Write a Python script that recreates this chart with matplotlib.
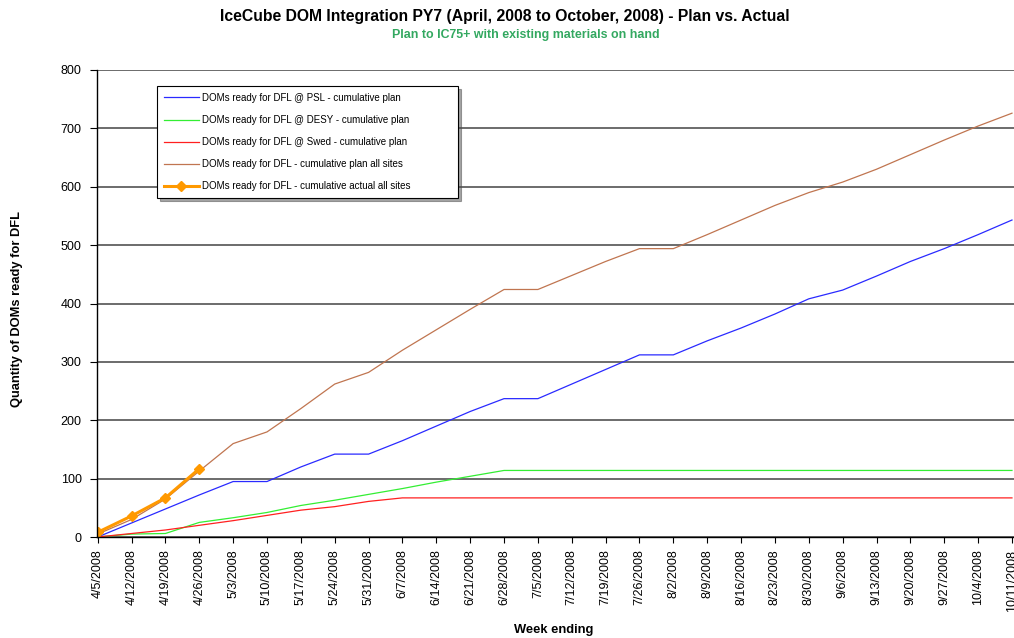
import matplotlib
matplotlib.use("Agg")
import matplotlib.pyplot as plt

plt.rcParams['font.family'] = ['Liberation Sans', 'DejaVu Sans']

weeks = ["4/5/2008", "4/12/2008", "4/19/2008", "4/26/2008", "5/3/2008", "5/10/2008",
         "5/17/2008", "5/24/2008", "5/31/2008", "6/7/2008", "6/14/2008", "6/21/2008",
         "6/28/2008", "7/5/2008", "7/12/2008", "7/19/2008", "7/26/2008", "8/2/2008",
         "8/9/2008", "8/16/2008", "8/23/2008", "8/30/2008", "9/6/2008", "9/13/2008",
         "9/20/2008", "9/27/2008", "10/4/2008", "10/11/2008"]

psl_plan = [0, 24, 48, 72, 95, 95, 120, 142, 142, 165, 190, 215, 237, 237, 262, 287,
            312, 312, 336, 358, 382, 408, 423, 447, 472, 494, 518, 543]
desy_plan = [0, 5, 6, 25, 33, 42, 54, 63, 73, 83, 94, 104, 114, 114, 114, 114, 114,
             114, 114, 114, 114, 114, 114, 114, 114, 114, 114, 114]
swed_plan = [0, 6, 12, 20, 28, 37, 46, 52, 61, 67, 67, 67, 67, 67, 67, 67, 67, 67,
             67, 67, 67, 67, 67, 67, 67, 67, 67, 67]
all_plan = [5, 30, 65, 113, 160, 180, 220, 262, 282, 320, 355, 390, 424, 424, 448, 472,
            494, 494, 518, 543, 568, 590, 608, 630, 655, 680, 704, 726]
actual = [8, 36, 67, 117]

labels = ["DOMs ready for DFL @ PSL - cumulative plan",
          "DOMs ready for DFL @ DESY - cumulative plan",
          "DOMs ready for DFL @ Swed - cumulative plan",
          "DOMs ready for DFL - cumulative plan all sites",
          "DOMs ready for DFL - cumulative actual all sites"]

W, H = 1014, 638
fig = plt.figure(figsize=(W / 100, H / 100), dpi=100)
ax = fig.add_axes([97 / W, (H - 537) / H, (1014 - 97) / W, (537 - 70) / H])

x = list(range(len(weeks)))
ax.plot(x, psl_plan, color='#2a2aff', lw=0.9, label=labels[0])
ax.plot(x, desy_plan, color='#33ee33', lw=0.9, label=labels[1])
ax.plot(x, swed_plan, color='#ff2020', lw=0.9, label=labels[2])
ax.plot(x, all_plan, color='#c07550', lw=0.9, label=labels[3])
ax.plot(range(len(actual)), actual, color='#ff9900', lw=2.2, marker='D', markersize=5,
        label=labels[4])

ax.set_ylim(0, 800)
ax.set_yticks(range(0, 801, 100))
ax.set_xlim(-0.02, 27.06)
ax.set_xticks(x)
ax.set_xticklabels(weeks, rotation=90, fontsize=9, va='top', ha='center')
ax.tick_params(axis='y', labelsize=9, direction='out', length=5, width=0.8, pad=6)
ax.tick_params(axis='x', direction='out', length=4, width=0.8, pad=5)
ax.grid(axis='y', color='#444444', lw=1.1)
ax.set_axisbelow(True)
for s in ['top', 'right']:
    ax.spines[s].set_visible(False)
ax.spines['left'].set_linewidth(1.0)
ax.spines['bottom'].set_linewidth(1.0)

fig.text(505 / W, 1 - 17 / H, "IceCube DOM Integration PY7 (April, 2008 to October, 2008) - Plan vs. Actual",
         ha='center', va='center', fontsize=11.3, fontweight='bold')
fig.text(526 / W, 1 - 35 / H, "Plan to IC75+ with existing materials on hand",
         ha='center', va='center', fontsize=8.9, fontweight='bold', color='#33a860')
fig.text(17 / W, 1 - 309 / H, "Quantity of DOMs ready for DFL", rotation=90,
         ha='center', va='center', fontsize=9.3, fontweight='bold')
fig.text(554 / W, 1 - 630 / H, "Week ending", ha='center', va='center',
         fontsize=9.3, fontweight='bold')

leg = fig.legend(loc='upper left',
                 bbox_to_anchor=(157 / W, 1 - 203 / H, (458 - 157) / W, (203 - 86) / H),
                 mode='expand', fontsize=7, labelspacing=1.25, handlelength=3.6,
                 handletextpad=0.3, borderpad=0.7, fancybox=False, shadow=True,
                 frameon=True, borderaxespad=0)
leg.get_frame().set_edgecolor('black')
leg.get_frame().set_linewidth(0.8)

fig.savefig("out.png", dpi=100)
